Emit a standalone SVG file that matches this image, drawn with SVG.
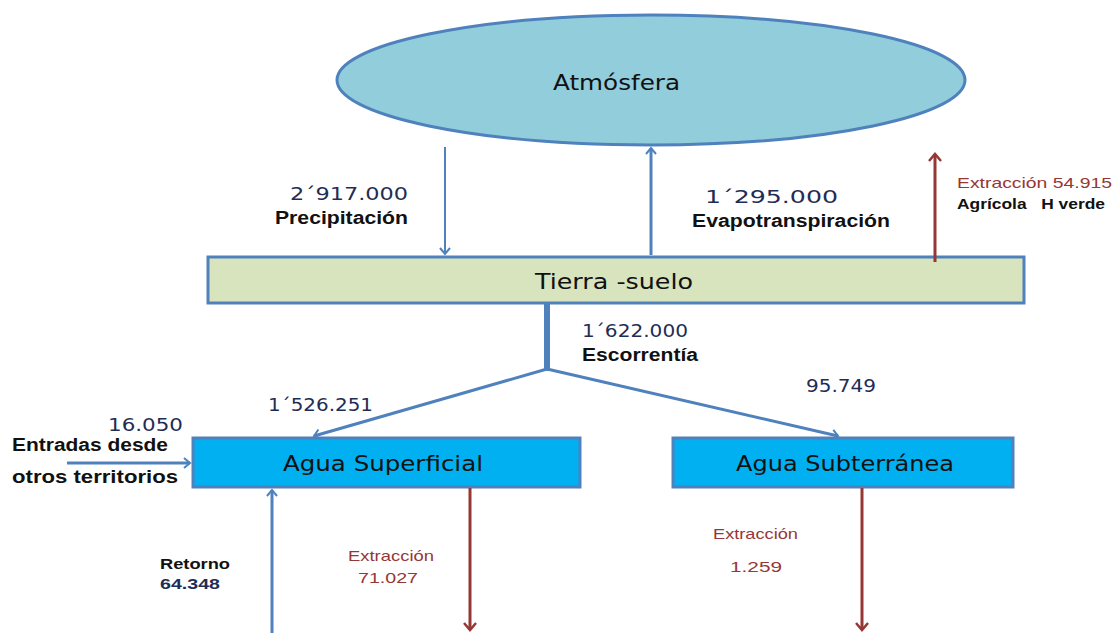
<svg xmlns="http://www.w3.org/2000/svg" width="1112" height="633" viewBox="0 0 1112 633">
<style>
.node{font-family:"DejaVu Sans","Verdana",sans-serif;font-size:21px;fill:#111}
.num{font-family:"DejaVu Sans",sans-serif;font-size:18px;fill:#1f2d55}
.lbl{font-family:"Liberation Sans",Arial,sans-serif;font-weight:bold;font-size:18px;fill:#111}
.sm{font-family:"Liberation Sans",Arial,sans-serif;font-size:15px}
.red{fill:#953735}
.blue{stroke:#4f81bd;fill:none}
.redl{stroke:#953735;fill:none;stroke-width:3}
</style>
<defs>
<marker id="ab" markerWidth="12" markerHeight="12" refX="7" refY="6" orient="auto" markerUnits="userSpaceOnUse"><path d="M1,1 L7,6 L1,11" fill="none" stroke="#4f81bd" stroke-width="2"/></marker>
<marker id="ar" markerWidth="14" markerHeight="14" refX="8" refY="7" orient="auto" markerUnits="userSpaceOnUse"><path d="M1,1 L8,7 L1,13" fill="none" stroke="#953735" stroke-width="2.5"/></marker>
</defs>
<rect width="1112" height="633" fill="#fff"/>
<g id="atmosfera">
<ellipse cx="651" cy="80" rx="314" ry="65" fill="#92cddc" stroke="#4f81bd" stroke-width="3"/>
<text class="node" x="553" y="90" textLength="127" lengthAdjust="spacingAndGlyphs">Atmósfera</text>
</g>
<g id="tierra">
<rect x="208" y="257" width="816" height="46" fill="#d7e4bd" stroke="#4f81bd" stroke-width="3"/>
<text class="node" x="535" y="289" textLength="158" lengthAdjust="spacingAndGlyphs">Tierra -suelo</text>
</g>
<g id="superficial">
<rect x="193" y="438" width="387" height="49" fill="#00b0f0" stroke="#4f81bd" stroke-width="3"/>
<text class="node" x="283" y="471" textLength="200" lengthAdjust="spacingAndGlyphs">Agua Superficial</text>
</g>
<g id="subterranea">
<rect x="673" y="438" width="340" height="49" fill="#00b0f0" stroke="#4f81bd" stroke-width="3"/>
<text class="node" x="736" y="471" textLength="218" lengthAdjust="spacingAndGlyphs">Agua Subterránea</text>
</g>
<g id="connectors">
<line class="blue" x1="445" y1="147" x2="445" y2="254" stroke-width="2" marker-end="url(#ab)"/>
<line class="blue" x1="651" y1="255" x2="651" y2="148" stroke-width="3" marker-end="url(#ab)"/>
<line class="redl" x1="935" y1="262" x2="935" y2="154" marker-end="url(#ar)"/>
<line class="blue" x1="547" y1="303" x2="547" y2="371" stroke-width="6"/>
<line class="blue" x1="547" y1="369" x2="314" y2="436" stroke-width="3" marker-end="url(#ab)"/>
<line class="blue" x1="547" y1="369" x2="838" y2="436" stroke-width="3" marker-end="url(#ab)"/>
<line class="blue" x1="67" y1="463" x2="190" y2="463" stroke-width="3" marker-end="url(#ab)"/>
<line class="blue" x1="272" y1="633" x2="272" y2="490" stroke-width="3" marker-end="url(#ab)"/>
<line class="redl" x1="470" y1="488" x2="470" y2="630" marker-end="url(#ar)"/>
<line class="redl" x1="862" y1="488" x2="862" y2="630" marker-end="url(#ar)"/>
</g>
<g id="labels">
<text class="num" x="290" y="200" textLength="118" lengthAdjust="spacingAndGlyphs">2´917.000</text>
<text class="lbl" x="275" y="224" textLength="133" lengthAdjust="spacingAndGlyphs">Precipitación</text>
<text class="num" x="705" y="203" textLength="133" lengthAdjust="spacingAndGlyphs">1´295.000</text>
<text class="lbl" x="692" y="227" textLength="198" lengthAdjust="spacingAndGlyphs">Evapotranspiración</text>
<text class="sm red" x="957" y="188" textLength="155" lengthAdjust="spacingAndGlyphs">Extracción 54.915</text>
<text class="sm" x="957" y="209" font-weight="bold" fill="#111" textLength="148" lengthAdjust="spacingAndGlyphs" xml:space="preserve">Agrícola   H verde</text>
<text class="num" x="582" y="337" textLength="106" lengthAdjust="spacingAndGlyphs">1´622.000</text>
<text class="lbl" x="582" y="361" textLength="116" lengthAdjust="spacingAndGlyphs">Escorrentía</text>
<text class="num" x="268" y="411" textLength="105" lengthAdjust="spacingAndGlyphs">1´526.251</text>
<text class="num" x="806" y="392" textLength="70" lengthAdjust="spacingAndGlyphs">95.749</text>
<text class="num" x="108" y="431" textLength="75" lengthAdjust="spacingAndGlyphs">16.050</text>
<text class="lbl" x="12" y="451" textLength="156" lengthAdjust="spacingAndGlyphs">Entradas desde</text>
<text class="lbl" x="12" y="483" textLength="166" lengthAdjust="spacingAndGlyphs">otros territorios</text>
<text class="sm" x="160" y="569" font-weight="bold" fill="#111" textLength="70" lengthAdjust="spacingAndGlyphs">Retorno</text>
<text class="sm" x="160" y="589" font-weight="bold" fill="#1f2d55" textLength="60" lengthAdjust="spacingAndGlyphs">64.348</text>
<text class="sm red" x="348" y="561" textLength="86" lengthAdjust="spacingAndGlyphs">Extracción</text>
<text class="sm red" x="358" y="583" textLength="60" lengthAdjust="spacingAndGlyphs">71.027</text>
<text class="sm red" x="713" y="539" textLength="85" lengthAdjust="spacingAndGlyphs">Extracción</text>
<text class="sm red" x="730" y="572" textLength="52" lengthAdjust="spacingAndGlyphs">1.259</text>
</g>
</svg>
